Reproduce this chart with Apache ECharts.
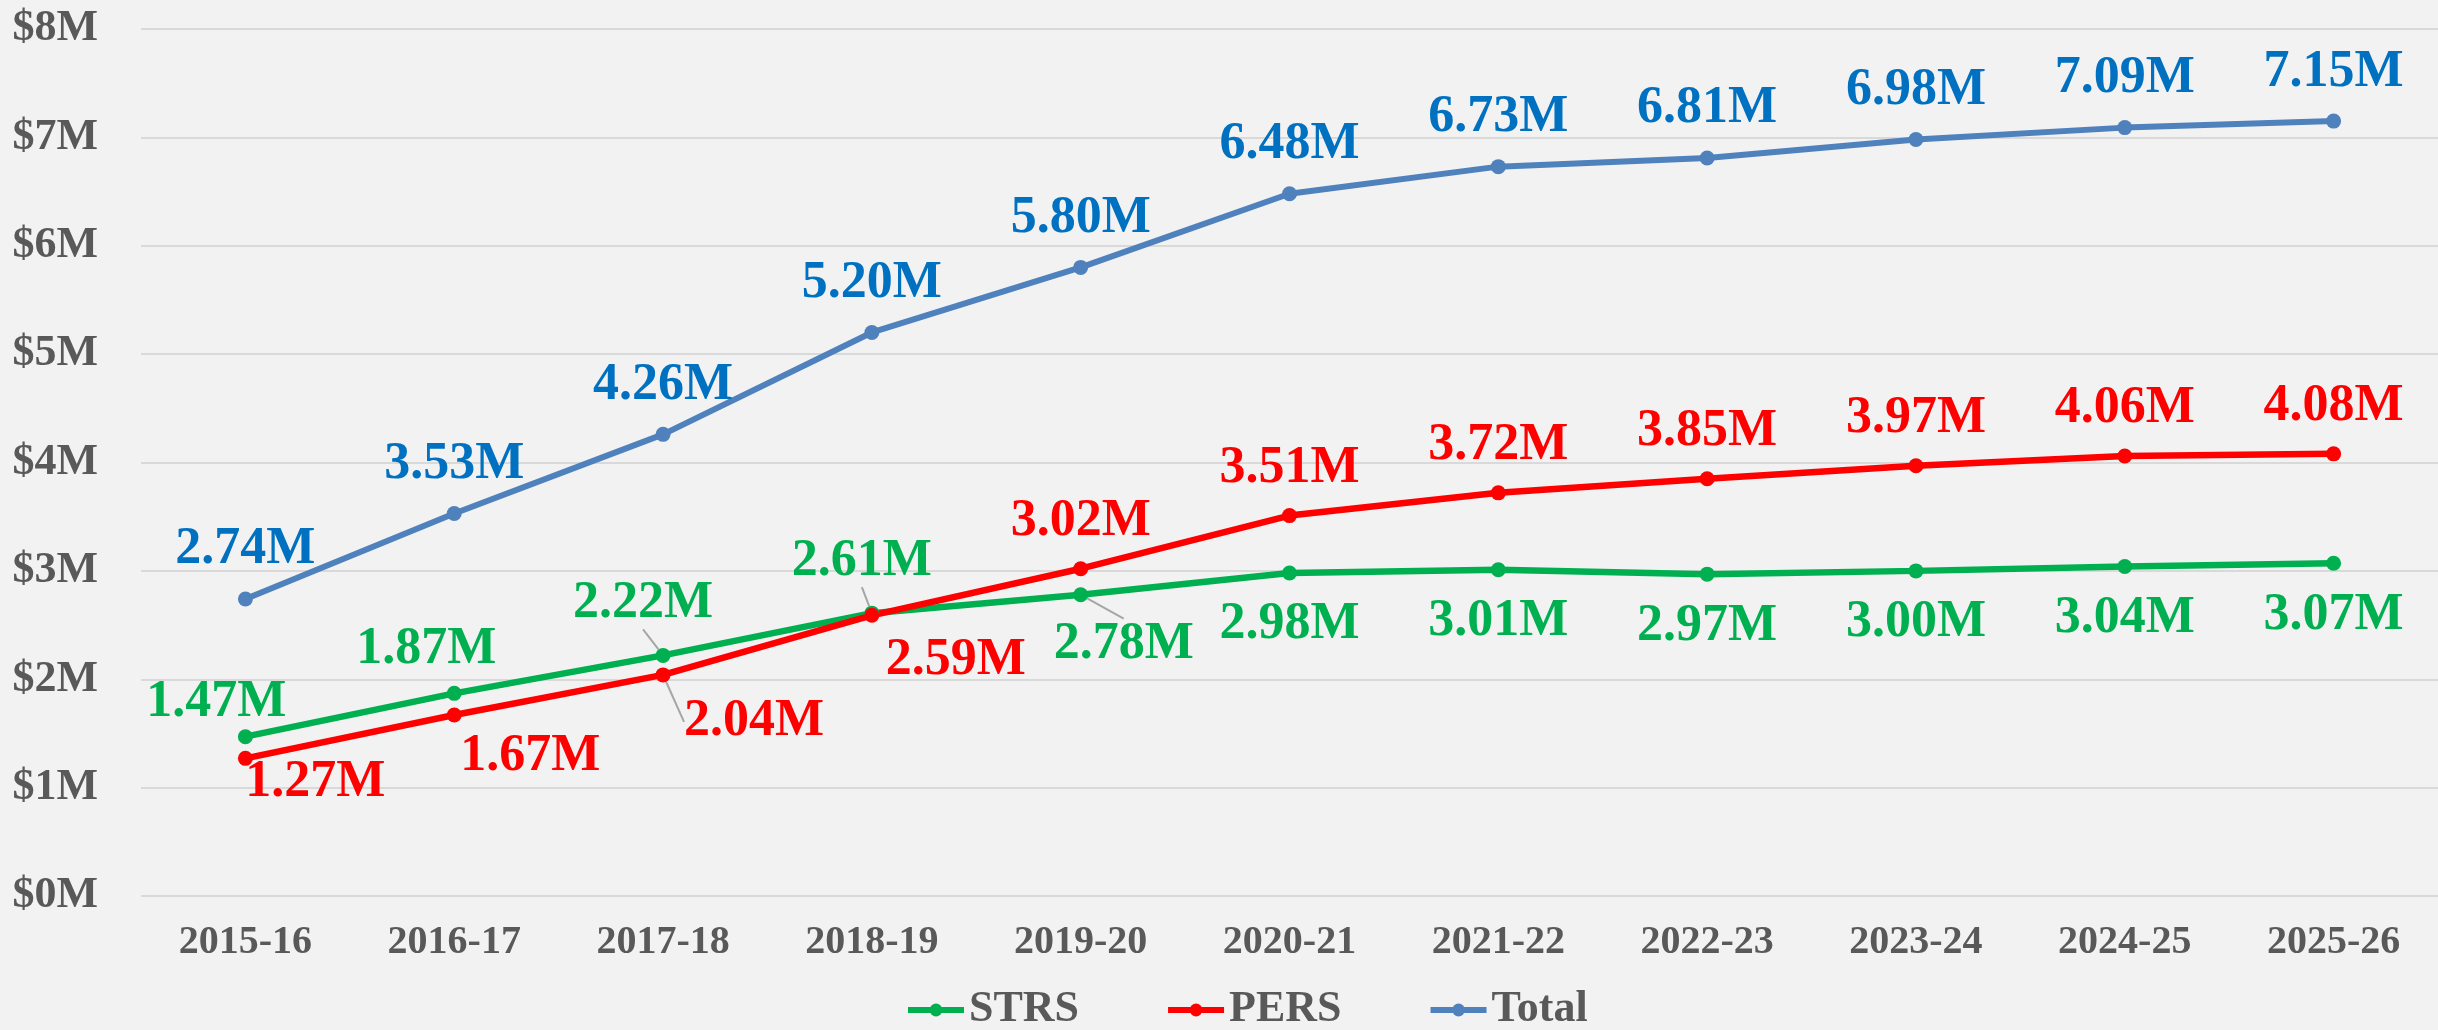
<!DOCTYPE html>
<html>
<head>
<meta charset="utf-8">
<script src="https://cdn.jsdelivr.net/npm/echarts@6/dist/echarts.min.js"></script>
<style>
  html, body { margin: 0; padding: 0; background: #F2F2F2; }
  #graph { width: 2438px; height: 1030px; }
</style>
</head>
<body>
<div id="graph"></div>
<script>
var years = ['2015-16', '2016-17', '2017-18', '2018-19', '2019-20', '2020-21',
             '2021-22', '2022-23', '2023-24', '2024-25', '2025-26'];
// values in $ millions
var strs  = [1.47, 1.87, 2.22, 2.61, 2.78, 2.98, 3.01, 2.97, 3.00, 3.04, 3.07];
var pers  = [1.27, 1.67, 2.04, 2.59, 3.02, 3.51, 3.72, 3.85, 3.97, 4.06, 4.08];
var total = [2.74, 3.53, 4.26, 5.20, 5.80, 6.48, 6.73, 6.81, 6.98, 7.09, 7.15];
var yTicks = [0, 1, 2, 3, 4, 5, 6, 7, 8];

// where each data label sits relative to its point (px)
var strsOffsets = [[-29, -34], [-28, -44], [-20, -52], [-10, -52], [43, 50],
                   [0, 52], [0, 52], [0, 52], [0, 52], [0, 52], [0, 52]];
var persOffsets = [[70, 24], [76, 42], [91, 47], [84, 45], [0, -47],
                   [0, -47], [0, -47], [0, -47], [0, -47], [0, -47], [0, -47]];
var totalOffset = [0, -49];
var strsLeader = [2, 3, 4];
var persLeader = [2];

var FONT = '"Liberation Serif", "DejaVu Serif", serif';

function buildData(values, leaders) {
    return values.map(function (v, i) {
        var item = { value: v };
        if (leaders && leaders.indexOf(i) >= 0) {
            item.labelLine = { show: true };
        }
        return item;
    });
}

function makeSeries(name, values, lineColor, labelColor, width, offsets, leaders) {
    return {
        name: name,
        type: 'line',
        data: buildData(values, leaders),
        symbol: 'circle',
        symbolSize: 15,
        lineStyle: { color: lineColor, width: width },
        itemStyle: { color: lineColor },
        label: {
            show: true,
            position: 'inside',
            color: labelColor,
            fontFamily: FONT,
            fontSize: 52,
            fontWeight: 'bold',
            formatter: function (p) { return p.value.toFixed(2) + 'M'; }
        },
        labelLayout: function (p) {
            var o = offsets ? offsets[p.dataIndex] : totalOffset;
            return { dx: o[0], dy: o[1] };
        },
        labelLine: {
            show: false,
            lineStyle: { color: '#A6A6A6', width: 2 }
        },
        emphasis: { disabled: true },
        animation: false
    };
}

var chart = echarts.init(document.getElementById('graph'));
var option = {
    backgroundColor: '#F2F2F2',
    grid: { left: 141, right: -30, top: 29, bottom: 134, containLabel: false },
    legend: {
        left: 900,
        top: 983,
        itemWidth: 56,
        itemHeight: 16,
        itemGap: 86,
        lineStyle: { width: 6 },
        textStyle: { color: '#595959', fontFamily: FONT, fontSize: 44, fontWeight: 'bold' },
        data: ['STRS', 'PERS', 'Total']
    },
    xAxis: {
        type: 'category',
        data: years,
        axisLine: { show: false },
        axisTick: { show: false },
        axisLabel: {
            color: '#595959',
            fontFamily: FONT,
            fontSize: 40,
            fontWeight: 'bold',
            margin: 27
        }
    },
    yAxis: {
        type: 'value',
        min: yTicks[0],
        max: yTicks[yTicks.length - 1],
        interval: 1,
        axisLine: { show: false },
        axisTick: { show: false },
        splitLine: { lineStyle: { color: '#D9D9D9', width: 2 } },
        axisLabel: {
            color: '#595959',
            fontFamily: FONT,
            fontSize: 44,
            fontWeight: 'bold',
            margin: 43,
            formatter: function (v) { return '$' + v + 'M'; }
        }
    },
    series: [
        makeSeries('STRS', strs, '#00B050', '#00B050', 6.5, strsOffsets, strsLeader),
        makeSeries('PERS', pers, '#FF0000', '#FF0000', 6.5, persOffsets, persLeader),
        makeSeries('Total', total, '#4F81BD', '#0070C0', 6, null, null)
    ]
};
chart.setOption(option);
</script>
</body>
</html>
